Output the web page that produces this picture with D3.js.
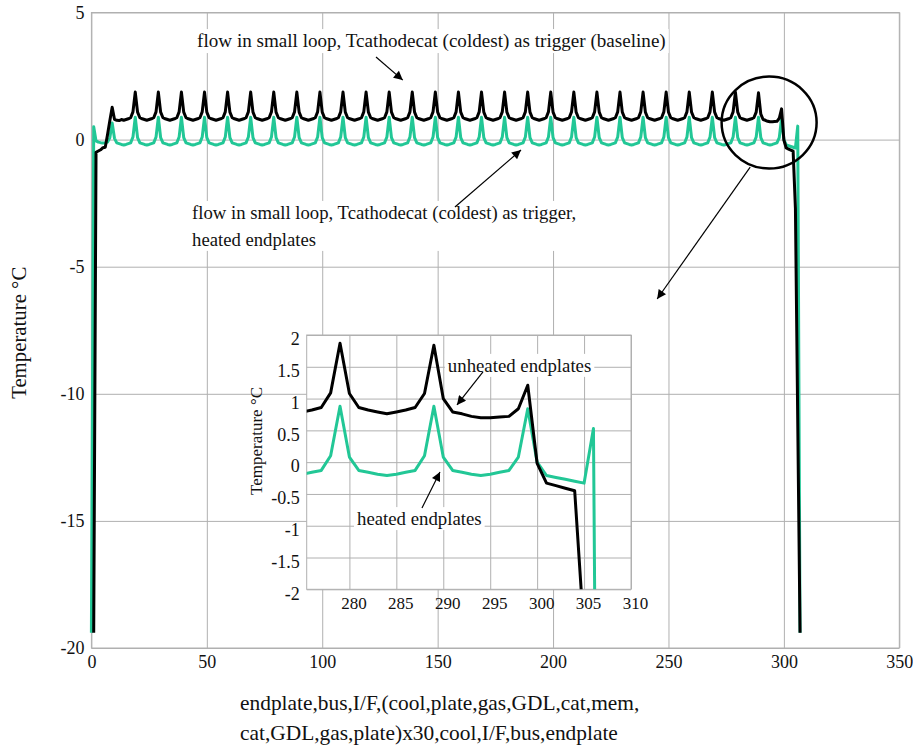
<!DOCTYPE html>
<html>
<head>
<meta charset="utf-8">
<script src="https://cdn.jsdelivr.net/npm/d3@7"></script>
<style>
  body { margin: 0; background: #fff; }
</style>
</head>
<body>
<div id="chart"></div>
<script>
// axis ticks
const xTicks = [0, 50, 100, 150, 200, 250, 300, 350];
const yTicks = [-20, -15, -10, -5, 0, 5];
const insetXTicks = [280, 285, 290, 295, 300, 305, 310];
const insetYTicks = [-2, -1.5, -1, -0.5, 0, 0.5, 1, 1.5, 2];

// layer index: endplate,bus,I/F, then 30 cells of
// (cool,plate,gas,GDL,cat,mem,cat,GDL,gas,plate) starting at 3, then cool,I/F,bus,endplate
const cellCount = 30;

// black: flow in small loop, baseline (unheated endplates)
const blackStart = [[1, -19.4], [2, -0.5]];
const blackFirstCell = [-0.45, -0.4, -0.32, -0.3, 0.2, 0.75, 1.27, 0.8, 0.76, 0.75];
const blackCell = [0.79, 0.76, 0.79, 0.82, 0.86, 1.09, 1.87, 1.08, 0.86, 0.82];
const blackCell28 = [0.79, 0.76, 0.79, 0.82, 0.86, 1.08, 1.84, 1.0, 0.79, 0.76];
const blackLastCell = [0.72, 0.7, 0.7, 0.71, 0.72, 0.84, 1.21, -0.02, -0.33, -0.37];
const blackEnd = [[303, -0.41], [304, -0.45], [305, -2.7], [307, -19.4]];

// green: heated endplates
const greenStart = [[0, -19.4], [1, 0.51], [2, -0.05]];
const greenFirstCell = [-0.1, -0.12, -0.13, -0.12, -0.1, 0.08, 0.65, 0.05, -0.13, -0.16];
const greenCell = [-0.19, -0.21, -0.19, -0.16, -0.13, 0.1, 0.88, 0.08, -0.13, -0.16];
const greenLastCell = [-0.19, -0.21, -0.19, -0.16, -0.13, 0.08, 0.84, 0.0, -0.21, -0.24];
const greenEnd = [[303, -0.27], [304, -0.3], [305, -0.33], [306, 0.53], [307, -19.4]];

const colors = { black: "#000000", green: "#22c796", grid: "#b0b0b0" };
const serif = "'Liberation Serif', 'Times New Roman', Times, serif";

function buildSeries(start, cells, end) {
  const pts = start.slice();
  cells.forEach((cell, k) => cell.forEach((v, j) => pts.push([3 + 10 * k + j, v])));
  return pts.concat(end);
}

const blackSeries = buildSeries(blackStart,
  [blackFirstCell, ...d3.range(cellCount - 3).map(() => blackCell), blackCell28, blackLastCell],
  blackEnd);
const greenSeries = buildSeries(greenStart,
  [greenFirstCell, ...d3.range(cellCount - 2).map(() => greenCell), greenLastCell],
  greenEnd);

const width = 913, height = 746;
const svg = d3.select("#chart").append("svg")
  .attr("width", width)
  .attr("height", height)
  .style("font-family", serif);

const defs = svg.append("defs");
defs.append("marker")
  .attr("id", "head")
  .attr("viewBox", "0 0 10 10")
  .attr("refX", 10).attr("refY", 5)
  .attr("markerWidth", 12).attr("markerHeight", 9)
  .attr("markerUnits", "userSpaceOnUse")
  .attr("orient", "auto")
  .append("path").attr("d", "M0,0 L10,5 L0,10 Z").attr("fill", "#000");

// main scales
const x = d3.scaleLinear().domain([0, 350]).range([91.4, 899.3]);
const y = d3.scaleLinear().domain([-20, 5]).range([648, 12.5]);

function styleAxis(g, size) {
  g.attr("font-family", null);
  g.select(".domain").remove();
  g.selectAll(".tick line").attr("stroke", colors.grid).attr("stroke-width", 1);
  g.selectAll(".tick text").style("font-size", size + "px").attr("fill", "#111");
}

// main grid + axes
svg.append("g")
  .attr("transform", `translate(0,${y(-20)})`)
  .call(d3.axisBottom(x).tickValues(xTicks).tickSize(-(y(-20) - y(5))).tickPadding(7).tickFormat(d => String(d)))
  .call(g => styleAxis(g, 18));

svg.append("g")
  .attr("transform", `translate(${x(0)},0)`)
  .call(d3.axisLeft(y).tickValues(yTicks).tickSize(-(x(350) - x(0))).tickPadding(7).tickFormat(d => String(d)))
  .call(g => styleAxis(g, 18));

svg.append("rect")
  .attr("x", x(0)).attr("y", y(5))
  .attr("width", x(350) - x(0)).attr("height", y(-20) - y(5))
  .attr("fill", "none").attr("stroke", colors.grid);

// main lines
const line = d3.line().x(d => x(d[0])).y(d => y(d[1]));
svg.append("path").datum(greenSeries)
  .attr("d", line).attr("fill", "none")
  .attr("stroke", colors.green).attr("stroke-width", 3).attr("stroke-linejoin", "round");
svg.append("path").datum(blackSeries)
  .attr("d", line).attr("fill", "none")
  .attr("stroke", colors.black).attr("stroke-width", 3).attr("stroke-linejoin", "round");

// text with white box behind
function boxedText(g, px, py, lines, size, gap) {
  const t = g.append("text").attr("x", px).attr("y", py)
    .style("font-family", serif).style("font-size", size + "px").attr("fill", "#111");
  lines.forEach((s, i) => t.append("tspan").attr("x", px).attr("dy", i ? gap : 0).text(s));
  const b = t.node().getBBox();
  g.insert("rect", () => t.node())
    .attr("x", b.x - 3).attr("y", b.y - 1)
    .attr("width", b.width + 6).attr("height", b.height + 2)
    .attr("fill", "#fff");
}

function arrow(g, x1, y1, x2, y2) {
  g.append("line")
    .attr("x1", x1).attr("y1", y1).attr("x2", x2).attr("y2", y2)
    .attr("stroke", "#000").attr("stroke-width", 1.2)
    .attr("marker-end", "url(#head)");
}

const notes = svg.append("g");
boxedText(notes, x(45.8), y(3.64),
  ["flow in small loop, Tcathodecat (coldest) as trigger (baseline)"], 19.1, 0);
boxedText(notes, x(43.6), y(-3.12),
  ["flow in small loop, Tcathodecat (coldest) as trigger,", "heated endplates"], 18.7, 27);
arrow(notes, x(123.3), y(3.25), x(134.9), y(2.34));
arrow(notes, x(157.5), y(-2.65), x(186.1), y(-0.41));

// zoom circle and pointer
notes.append("ellipse")
  .attr("cx", x(293.6)).attr("cy", y(0.67))
  .attr("rx", 47.5).attr("ry", 46)
  .attr("fill", "none").attr("stroke", "#000").attr("stroke-width", 2.5);
arrow(notes, x(285.4), y(-1.08), x(245.1), y(-6.27));

// inset
const box = { left: 306.7, right: 631, top: 335, bottom: 589.3 };
const ix = d3.scaleLinear().domain([275.45, 310]).range([box.left, box.right]);
const iy = d3.scaleLinear().domain([-2, 2]).range([box.bottom, box.top]);

const inset = svg.append("g");
inset.append("rect")
  .attr("x", box.left).attr("y", box.top)
  .attr("width", box.right - box.left).attr("height", box.bottom - box.top)
  .attr("fill", "#fff");

inset.append("g")
  .attr("transform", `translate(4,${box.bottom})`)
  .call(d3.axisBottom(ix).tickValues(insetXTicks).tickSize(-(box.bottom - box.top)).tickPadding(8).tickFormat(d => String(d)))
  .call(g => styleAxis(g, 17))
  .call(g => g.selectAll(".tick line").attr("transform", "translate(-4,0)"));

inset.append("g")
  .attr("transform", `translate(${box.left},4)`)
  .call(d3.axisLeft(iy).tickValues(insetYTicks).tickSize(-(box.right - box.left)).tickPadding(7).tickFormat(d => String(d)))
  .call(g => styleAxis(g, 18))
  .call(g => g.selectAll(".tick line").attr("transform", "translate(0,-4)"));

inset.append("rect")
  .attr("x", box.left).attr("y", box.top)
  .attr("width", box.right - box.left).attr("height", box.bottom - box.top)
  .attr("fill", "none").attr("stroke", colors.grid);

defs.append("clipPath").attr("id", "insetClip")
  .append("rect")
  .attr("x", box.left).attr("y", box.top)
  .attr("width", box.right - box.left).attr("height", box.bottom - box.top);

const iline = d3.line().x(d => ix(d[0])).y(d => iy(d[1]));
const lines = inset.append("g").attr("clip-path", "url(#insetClip)");
lines.append("path").datum(greenSeries)
  .attr("d", iline).attr("fill", "none")
  .attr("stroke", colors.green).attr("stroke-width", 3).attr("stroke-linejoin", "round");
lines.append("path").datum(blackSeries)
  .attr("d", iline).attr("fill", "none")
  .attr("stroke", colors.black).attr("stroke-width", 3).attr("stroke-linejoin", "round");

boxedText(inset, ix(290.49), iy(1.42), ["unheated endplates"], 18.8, 0);
boxedText(inset, ix(280.81), iy(-0.99), ["heated endplates"], 18.8, 0);
arrow(inset, ix(294.23), iy(1.42), ix(291.46), iy(0.9));
arrow(inset, ix(287.73), iy(-0.72), ix(289.65), iy(-0.155));

inset.append("text")
  .attr("transform", "translate(262,441) rotate(-90)")
  .attr("text-anchor", "middle")
  .style("font-size", "17px")
  .text("Temperature \u00B0C");

// axis titles
svg.append("text")
  .attr("transform", `translate(26,${y(-7.6)}) rotate(-90)`)
  .attr("text-anchor", "middle")
  .style("font-size", "20.8px")
  .text("Temperature \u00B0C");

svg.append("text")
  .attr("x", 240).attr("y", 710)
  .style("font-size", "21.4px")
  .text("endplate,bus,I/F,(cool,plate,gas,GDL,cat,mem,");
svg.append("text")
  .attr("x", 240).attr("y", 740)
  .style("font-size", "21.4px")
  .text("cat,GDL,gas,plate)x30,cool,I/F,bus,endplate");

svg.selectAll("text").style("font-family", serif).attr("fill", "#111");
</script>
</body>
</html>
